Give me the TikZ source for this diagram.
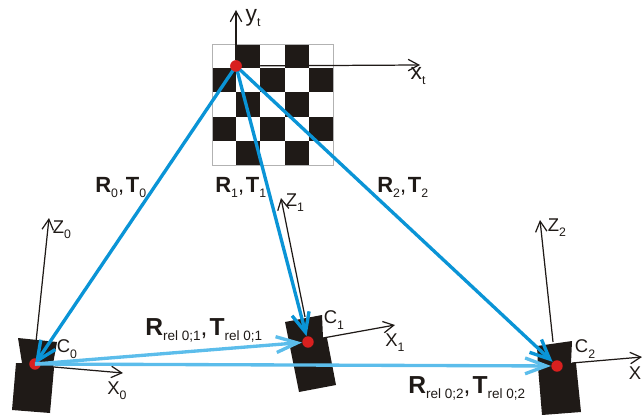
\documentclass[tikz,border=0pt]{standalone}
\usepackage{fontspec}
\setmainfont{Liberation Sans}
\usetikzlibrary{arrows.meta}
\definecolor{inkblack}{HTML}{1F1A17}
\definecolor{posblue}{HTML}{0A94D6}
\definecolor{relblue}{HTML}{5CBDEB}
\definecolor{dotred}{HTML}{D8201F}
\newcommand{\lowtext}[2]{\raisebox{-3pt}{\fontsize{#1}{#1}\selectfont #2}}
\newcommand{\RT}[3]{\textbf{R}\lowtext{#1}{#2},\kern0.08em\textbf{T}\lowtext{#1}{#3}}
\tikzset{
  reddot/.style={circle, fill=dotred, minimum size=6.5pt, inner sep=0pt},
  axisline/.style={draw=inkblack, line width=0.7pt, -{Straight Barb[length=6pt,width=6.5pt]}},
  poseline/.style={draw=posblue, line width=1.9pt, -{Straight Barb[length=11pt,width=10pt]}},
  relline/.style={draw=relblue, line width=1.9pt, -{Straight Barb[length=12pt,width=9pt]}},
  camerabody/.style={fill=inkblack},
  axislabel/.style={font=\fontsize{10.5}{11}\selectfont, text=inkblack, inner sep=0pt},
  boardlabel/.style={font=\fontsize{13}{14}\selectfont, text=inkblack, inner sep=0pt},
  poselabel/.style={font=\fontsize{12.5}{13}\selectfont, text=inkblack, inner sep=0pt, anchor=base west},
  rellabel/.style={font=\fontsize{14}{15}\selectfont, text=inkblack, inner sep=0pt, anchor=base west},
}
\begin{document}
\begin{tikzpicture}[x=0.2mm, y=-0.2mm]
  \useasboundingbox (0,0) rectangle (642,415);
  % Board
  \foreach \col in {0,...,4}
    \foreach \row in {0,...,4} {
      \pgfmathparse{int(mod(\col+\row,2))}
      \ifnum\pgfmathresult=1
        \fill[inkblack] ({212+24.2*\col},{44+24.2*\row}) rectangle ++(24.2,24.2);
      \fi
    }
  \draw[gray!60, line width=0.5pt] (212,44) rectangle (333,165);
  % Cameras
  \fill[camerabody] (18,338) -- (57,342) -- (53,364) -- (54,368) -- (50,413) -- (12,410) -- (16,363) -- (22,363) -- cycle;
  \fill[camerabody] (285,322) -- (322,315) -- (323,338) -- (327,338) -- (336,385) -- (299,392) -- cycle;
  \fill[camerabody] (537,346) -- (572,341) -- (571,363) -- (576,363) -- (581,412) -- (542,415) -- (538,367) -- cycle;
  % Dots
  \node[reddot] (target) at (236,66) {};
  \node[reddot] (c0) at (35,364) {};
  \node[reddot] (c1) at (308,342) {};
  \node[reddot] (c2) at (557,366) {};
  % Axis ends
  \coordinate (yt) at (236,10);
  \coordinate (xt) at (420,65);
  \coordinate (z0) at (49,218);
  \coordinate (x0) at (123,373);
  \coordinate (z1) at (281,198);
  \coordinate (x1) at (395,325);
  \coordinate (z2) at (540,220);
  \coordinate (x2) at (642,357);
  \coordinate (x0start) at (54,367);
  \coordinate (z0start) at (36,342);
  \coordinate (x1start) at (323,338);
  \coordinate (z1start) at (305,317);
  \coordinate (x2start) at (572,363);
  \coordinate (z2start) at (553,342);
  \draw[axisline] (target) -- (yt);
  \draw[axisline] (target) -- (xt);
  \draw[axisline] (z0start) -- (z0);
  \draw[axisline] (x0start) -- (x0);
  \draw[axisline] (z1start) -- (z1);
  \draw[axisline] (x1start) -- (x1);
  \draw[axisline] (z2start) -- (z2);
  \draw[axisline] (x2start) -- (x2);
  % Poses
  \draw[poseline] (target.center) -- (c0.center);
  \draw[poseline] (target.center) -- (c1);
  \draw[poseline] (target.center) -- (c2);
  \node[reddot] (targettop) at (target) {};
  \draw[relline] (c0.center) -- (c1);
  \draw[relline] (c0.center) -- (c2);
  % Labels
  \node[boardlabel] (ytlabel) at (253,18) {y\lowtext{7}{t}};
  \node[boardlabel] (xtlabel) at (418,76) {x\lowtext{7}{t}};
  \node[axislabel] (z0label) at (62,230) {Z\lowtext{7}{0}};
  \node[axislabel] (x0label) at (117,391) {X\lowtext{7}{0}};
  \node[axislabel] (c0label) at (67,349) {C\lowtext{7}{0}};
  \node[axislabel] (z1label) at (295,203) {Z\lowtext{7}{1}};
  \node[axislabel] (x1label) at (395,343) {X\lowtext{7}{1}};
  \node[axislabel] (c1label) at (334,320) {C\lowtext{7}{1}};
  \node[axislabel] (z2label) at (557,228) {Z\lowtext{7}{2}};
  \node[axislabel, anchor=east] (x2label) at (641.5,373) {X};
  \node[axislabel] (c2label) at (585,349) {C\lowtext{7}{2}};
  \node[poselabel] (pose0) at (95,192) {\RT{7}{0}{0}};
  \node[poselabel] (pose1) at (215,192) {\RT{7}{1}{1}};
  \node[poselabel] (pose2) at (377,192) {\RT{7}{2}{2}};
  \node[rellabel] (rel1) at (145,335) {\RT{7.7}{rel 0;1}{rel 0;1}};
  \node[rellabel] (rel2) at (408,393) {\RT{7.7}{rel 0;2}{rel 0;2}};
\end{tikzpicture}
\end{document}
